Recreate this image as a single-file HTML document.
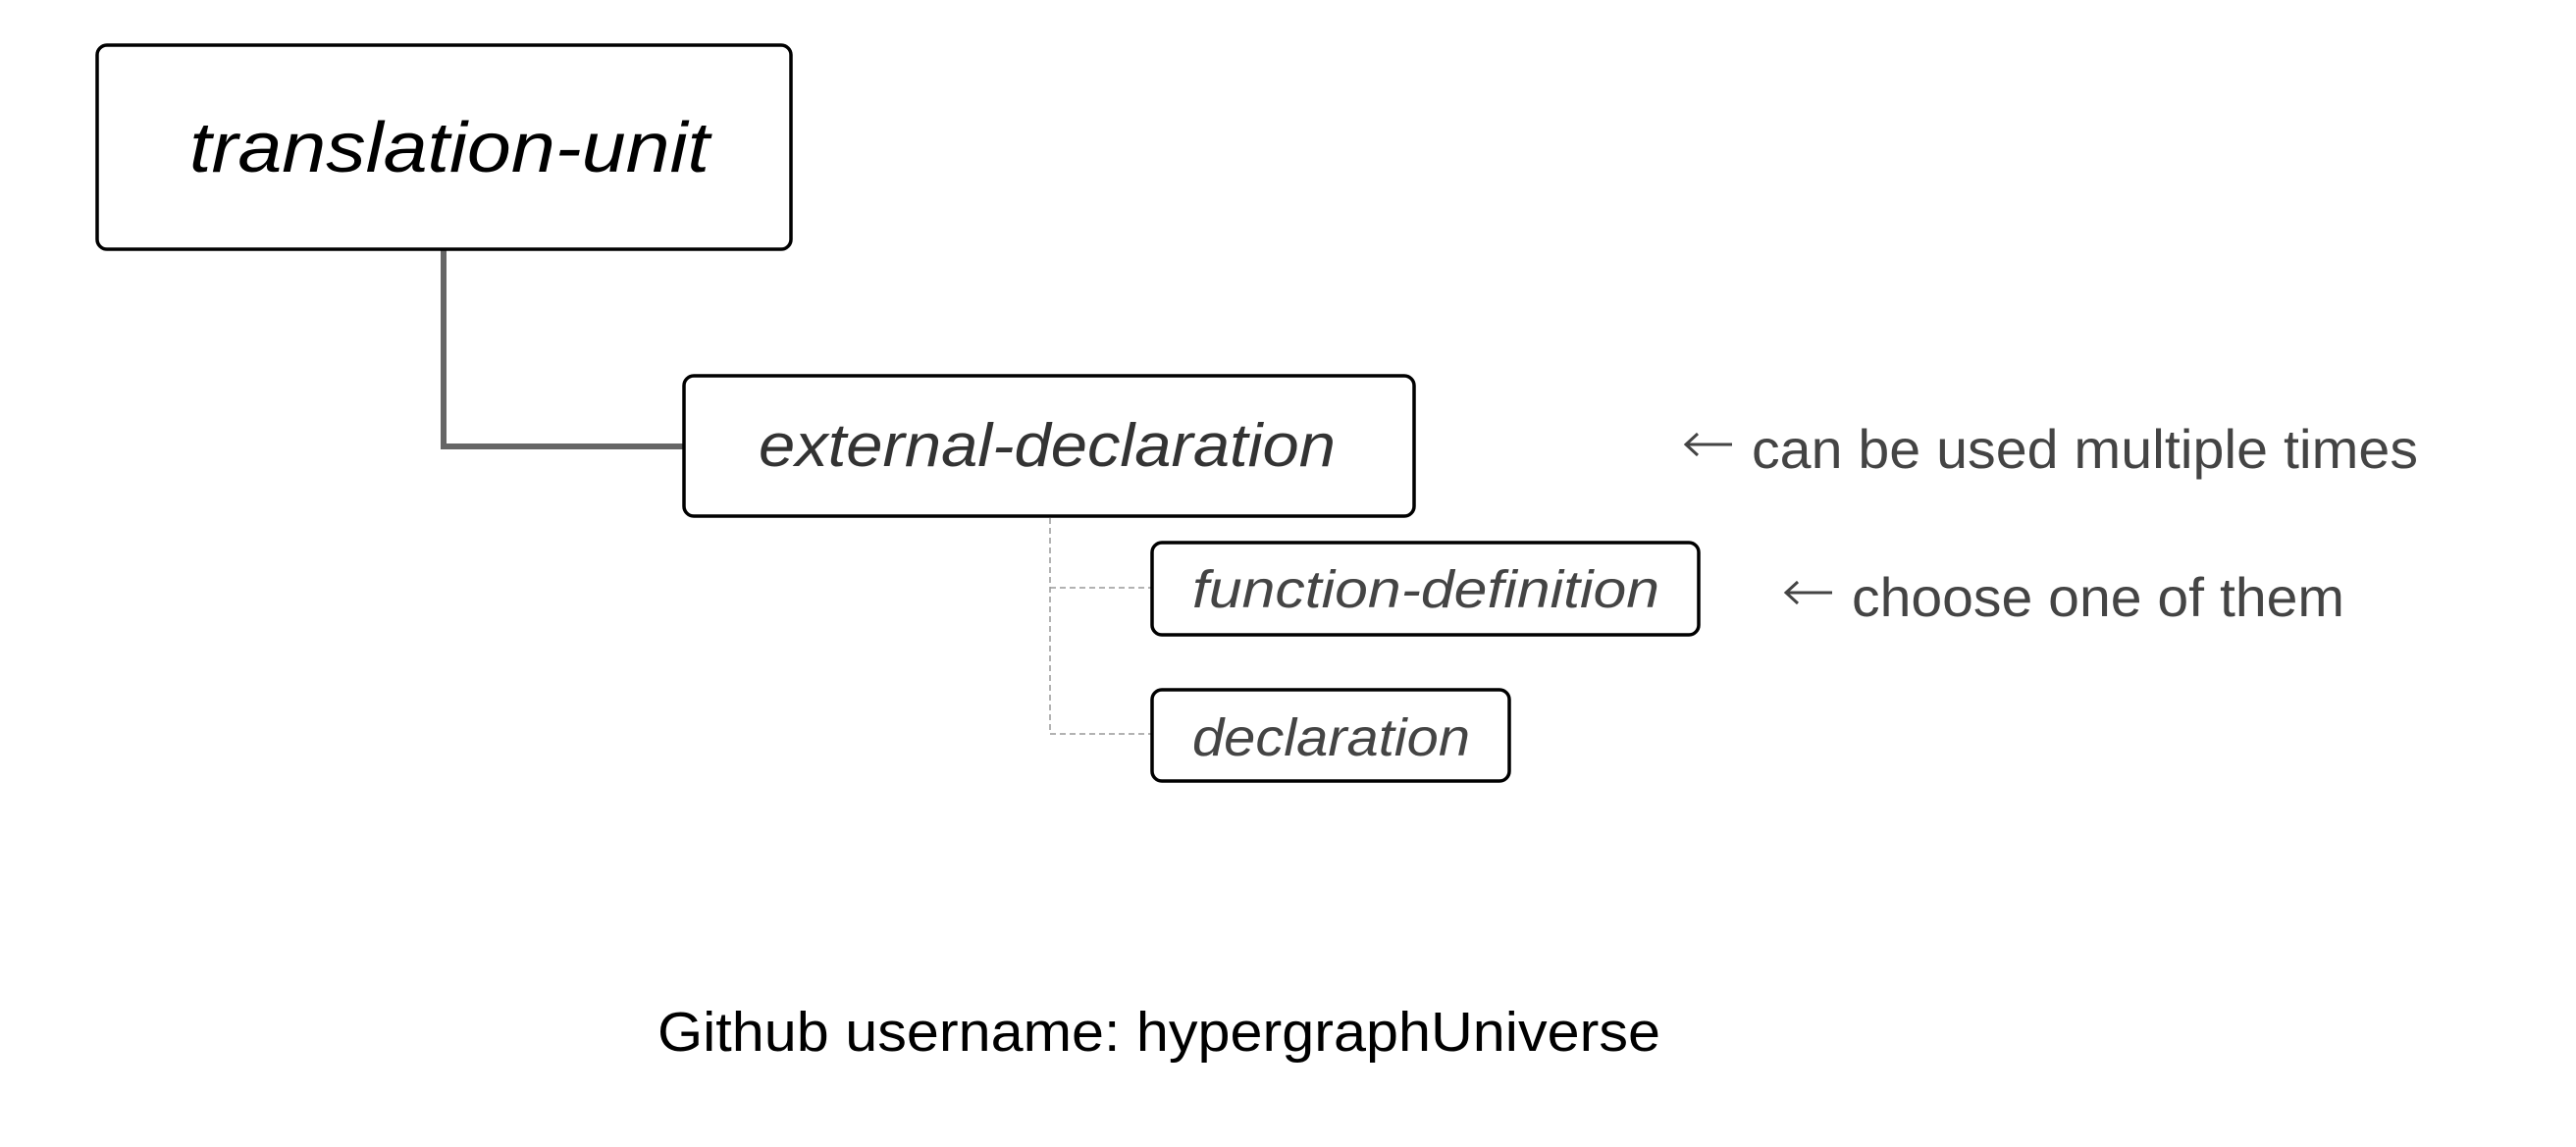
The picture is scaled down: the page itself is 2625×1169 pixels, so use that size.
<!DOCTYPE html>
<html><head><meta charset="utf-8"><style>
html,body{margin:0;padding:0;background:#fff;}
svg{display:block;}
text{font-family:"Liberation Sans",sans-serif;}
</style></head><body>
<svg width="2625" height="1169" viewBox="0 0 2625 1169" xmlns="http://www.w3.org/2000/svg">
<rect width="2625" height="1169" fill="#fff"/>
<!-- connectors -->
<path d="M452 255 V455 H697" fill="none" stroke="#666" stroke-width="6"/>
<path d="M1070 528 V748 M1070 599 H1173 M1070 748 H1173" fill="none" stroke="#999" stroke-width="1.5" stroke-dasharray="6,4"/>
<!-- boxes -->
<rect x="99" y="46" width="707" height="208" rx="10" fill="#fff" stroke="#000" stroke-width="3.5"/>
<rect x="697" y="383" width="744" height="143" rx="10" fill="#fff" stroke="#000" stroke-width="3.5"/>
<rect x="1174" y="553" width="557" height="94" rx="10" fill="#fff" stroke="#000" stroke-width="3.5"/>
<rect x="1174" y="703" width="364" height="93" rx="10" fill="#fff" stroke="#000" stroke-width="3.5"/>
<!-- labels -->
<text x="193" y="175" font-size="72" font-style="italic" fill="#000" textLength="530" lengthAdjust="spacingAndGlyphs">translation-unit</text>
<text x="773" y="475" font-size="62" font-style="italic" fill="#333" textLength="588" lengthAdjust="spacingAndGlyphs">external-declaration</text>
<text x="1215" y="619" font-size="54" font-style="italic" fill="#444" textLength="476" lengthAdjust="spacingAndGlyphs">function-definition</text>
<text x="1215" y="770" font-size="54" font-style="italic" fill="#444" textLength="283" lengthAdjust="spacingAndGlyphs">declaration</text>
<!-- arrows -->
<path d="M1718 453 H1765 M1730 442 L1718 453 L1730 464" fill="none" stroke="#444" stroke-width="3"/>
<path d="M1820 604 H1867 M1832 593 L1820 604 L1832 615" fill="none" stroke="#444" stroke-width="3"/>
<text x="1785" y="477" font-size="56" fill="#444" textLength="679" lengthAdjust="spacingAndGlyphs">can be used multiple times</text>
<text x="1887" y="628" font-size="56" fill="#444" textLength="502" lengthAdjust="spacingAndGlyphs">choose one of them</text>
<text x="670" y="1071" font-size="57" fill="#000" textLength="1022" lengthAdjust="spacingAndGlyphs">Github username: hypergraphUniverse</text>
</svg>
</body></html>
